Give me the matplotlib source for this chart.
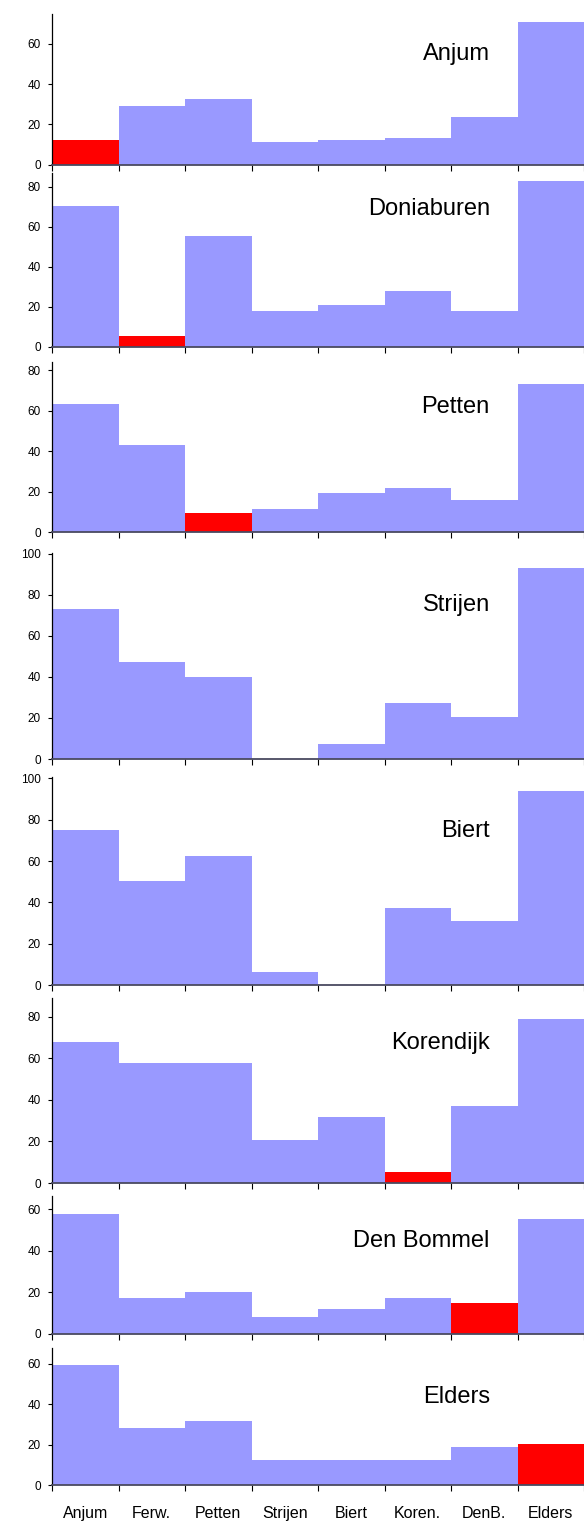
import matplotlib
matplotlib.use('Agg')
import matplotlib.pyplot as plt
import numpy as np

plt.rcParams['font.family'] = ['Liberation Sans', 'DejaVu Sans']

# categories on the x axis (short names) and one panel per place
categories = ['Anjum', 'Ferw.', 'Petten', 'Strijen', 'Biert', 'Koren.', 'DenB.', 'Elders']
panel_names = ['Anjum', 'Doniaburen', 'Petten', 'Strijen', 'Biert', 'Korendijk', 'Den Bommel', 'Elders']

anjum = [12.2, 29.1, 32.6, 11.2, 12.2, 13.4, 23.6, 70.7]
doniaburen = [70.3, 5.3, 55.3, 17.8, 20.8, 27.8, 17.8, 82.8]
petten = [63.4, 43.1, 9.5, 11.5, 19.4, 21.9, 16.0, 73.3]
strijen = [73.2, 47.3, 40.2, 0.0, 7.3, 27.3, 20.5, 93.2]
biert = [75.0, 50.3, 62.4, 6.3, 0.0, 37.3, 31.0, 93.9]
korendijk = [68.0, 57.8, 57.8, 20.7, 31.8, 5.1, 37.1, 79.0]
den_bommel = [57.6, 17.2, 20.1, 8.0, 11.9, 17.2, 14.8, 55.2]
elders = [59.5, 28.3, 31.7, 12.4, 12.4, 12.4, 18.8, 20.3]

series = [anjum, doniaburen, petten, strijen, biert, korendijk, den_bommel, elders]

# axis layout (pixels in a 584x1522 figure)
W, H = 584, 1522
left, right = 52, 584
panel_px = [(14, 164.7), (173.3, 346.7), (361.7, 532.3), (553.3, 759),
            (777.3, 985), (998.3, 1183), (1196, 1333.7), (1347.7, 1485)]
y_top = [74.7, 86.7, 84.2, 100.3, 100.5, 89.0, 66.3, 68.0]
y_ticks_max = [60, 80, 80, 100, 100, 80, 60, 60]
label_px = [46, 41.7, 51.6, 57.7, 59.4, 50.7, 50.7, 55]  # baseline below axes top

blue = '#9999ff'
red = '#ff0000'
axis_col = '#4a4a60'

fig = plt.figure(figsize=(W / 100, H / 100), dpi=100)

x = np.arange(len(categories))
for i, vals in enumerate(series):
    top, bottom = panel_px[i]
    ax = fig.add_axes([left / W, 1 - bottom / H, (right - left) / W, (bottom - top) / H])
    colors = [red if j == i else blue for j in range(len(vals))]
    ax.bar(x, vals, width=1.0, align='edge', color=colors, linewidth=0)
    ax.set_xlim(0, len(categories))
    ax.set_ylim(0, y_top[i])
    ax.set_yticks(np.arange(0, y_ticks_max[i] + 1, 20))
    ax.set_xticks(np.arange(len(categories) + 1))
    ax.set_xticklabels([])
    for s in ['top', 'right']:
        ax.spines[s].set_visible(False)
    ax.spines['left'].set_color('black')
    ax.spines['left'].set_linewidth(0.9)
    ax.spines['bottom'].set_color(axis_col)
    ax.spines['bottom'].set_linewidth(1.3)
    ax.tick_params(axis='y', direction='out', length=3, width=0.8, pad=5,
                   labelsize=8.5, colors='black')
    ax.tick_params(axis='x', which='major', direction='out', length=4, width=0.8,
                   color='black')
    ax.text(0.823, 1 - label_px[i] / (bottom - top), panel_names[i],
            transform=ax.transAxes, ha='right', va='baseline', fontsize=17)
    if i == len(series) - 1:
        ax.set_xticks(x + 0.5, minor=True)
        ax.set_xticklabels(categories, minor=True)
        ax.tick_params(axis='x', which='minor', length=0, pad=15, labelsize=11.5)

fig.savefig('out.png', dpi=100)
